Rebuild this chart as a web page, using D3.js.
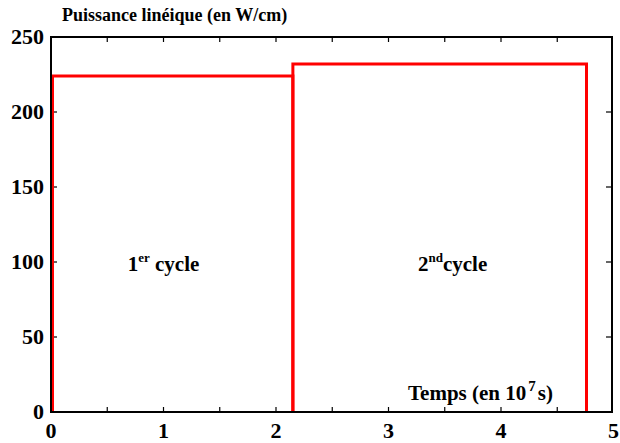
<!DOCTYPE html>
<html><head><meta charset="utf-8">
<script src="https://cdn.jsdelivr.net/npm/d3@7"></script>
<style>body{margin:0;background:#fff}svg{display:block}</style>
</head><body>
<script>
const cycleNames = ["1er cycle", "2nd cycle"];
const cycleStart = [0, 2.15];
const cycleEnd = [2.15, 4.76];
const cyclePower = [224, 232];
const xTicks = [0, 1, 2, 3, 4, 5];
const yTicks = [0, 50, 100, 150, 200, 250];
const xMinor = [0.5, 1.5, 2.5, 3.5, 4.5];

const FONT = "Liberation Serif";
const W = 620, H = 443;
const m = {l: 51, t: 37};
const svg = d3.select("body").append("svg").attr("width", W).attr("height", H);
const x = d3.scaleLinear().domain([0, 5]).range([m.l, 613.5]);
const y = d3.scaleLinear().domain([0, 250]).range([412, m.t]);
const X1 = 612;
const txt = sel => sel.attr("font-family", FONT).attr("font-weight", "bold").attr("fill", "#000");

// ticks
const g = svg.append("g").attr("stroke", "#000").attr("stroke-width", 1.2);
[...xTicks.slice(1, 5), ...xMinor].forEach(v => {
  g.append("line").attr("x1", x(v)).attr("x2", x(v)).attr("y1", y(0)).attr("y2", y(0) - 5);
  g.append("line").attr("x1", x(v)).attr("x2", x(v)).attr("y1", y(250)).attr("y2", y(250) + 5);
});
yTicks.slice(1, 5).forEach(v => {
  g.append("line").attr("x1", m.l).attr("x2", m.l + 6).attr("y1", y(v)).attr("y2", y(v));
  g.append("line").attr("x1", X1).attr("x2", X1 - 6).attr("y1", y(v)).attr("y2", y(v));
});

// cycles
svg.append("g").selectAll("path").data(cycleNames).join("path")
  .attr("fill", "none").attr("stroke", "#ff0000").attr("stroke-width", 3)
  .attr("d", (d, i) => `M${x(cycleStart[i]) + (i === 0 ? 1.5 : 0)},${y(0)}V${y(cyclePower[i])}H${x(cycleEnd[i])}V${y(0)}`);

// frame
svg.append("rect").attr("x", m.l).attr("y", y(250)).attr("width", X1 - m.l).attr("height", y(0) - y(250))
  .attr("fill", "none").attr("stroke", "#000").attr("stroke-width", 2);

// tick labels
svg.append("g").selectAll("text").data(xTicks).join("text").call(txt)
  .attr("x", d => x(d)).attr("y", 438).attr("text-anchor", "middle").attr("font-size", 22).text(d => d);
svg.append("g").selectAll("text").data(yTicks).join("text").call(txt)
  .attr("x", 44).attr("y", d => y(d) + 7).attr("text-anchor", "end").attr("font-size", 22).text(d => d);

// title
svg.append("text").call(txt).attr("x", 62).attr("y", 21).attr("font-size", 18).text("Puissance linéique (en W/cm)");

// cycle labels
const lbl = [{x: 1.0, sup: "er", base: "1"}, {x: 3.57, sup: "nd", base: "2"}];
lbl.forEach((l, i) => {
  const t = svg.append("text").call(txt).attr("x", x(l.x)).attr("y", 271).attr("text-anchor", "middle").attr("font-size", 21);
  t.append("tspan").text(l.base);
  t.append("tspan").attr("dy", -9).attr("font-size", 13).text(l.sup);
  t.append("tspan").attr("dy", 9).text(i === 0 ? " cycle" : "cycle");
});

// x axis title
const xt = svg.append("text").call(txt).attr("x", 408).attr("y", 400).attr("font-size", 21);
xt.append("tspan").text("Temps (en 10");
xt.append("tspan").attr("dx", 2).attr("dy", -9).attr("font-size", 15).text("7");
xt.append("tspan").attr("dx", 2).attr("dy", 9).text("s)");
</script>
</body></html>
